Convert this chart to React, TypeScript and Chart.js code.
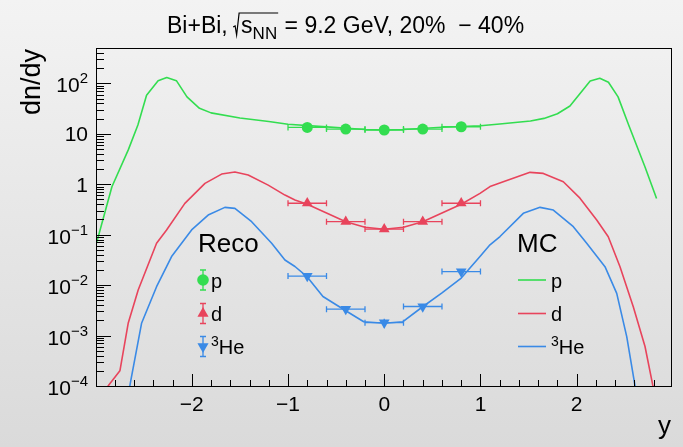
import React, { useEffect, useRef } from 'react';
import { Chart, registerables } from 'chart.js';

Chart.register(...registerables);

// ---------- data ----------
const mcRapP = [-2.99, -2.83, -2.66, -2.56, -2.47, -2.35, -2.26, -2.16, -2.05, -1.92, -1.8, -1.5, -1.2, -1.0, -0.6, -0.2, 0, 0.2, 0.6, 1.0, 1.2, 1.52, 1.66, 1.8, 1.93, 2.14, 2.24, 2.33, 2.43, 2.54, 2.71, 2.83];
const mcP = [0.068, 0.89, 4.8, 14.9, 58, 113, 131, 113, 54, 32, 26, 20.5, 17.5, 15.5, 13.7, 12.2, 11.9, 12.2, 13.5, 14.4, 15.6, 17.9, 20.2, 25, 35.5, 111, 126, 105, 54, 14.9, 2.2, 0.52];

const mcRapD = [-2.95, -2.862, -2.747, -2.661, -2.557, -2.366, -2.262, -2.072, -1.863, -1.69, -1.552, -1.414, -1.206, -1.032, -0.928, -0.8, -0.6, -0.4, -0.2, 0, 0.2, 0.4, 0.6, 0.8, 0.995, 1.099, 1.237, 1.515, 1.653, 1.861, 2.034, 2.208, 2.328, 2.45, 2.588, 2.71, 2.79, 2.84];
const mcD = [6e-5, 1.05e-4, 2.0e-4, 1.75e-3, 8.0e-3, 0.0675, 0.124, 0.418, 1.04, 1.59, 1.75, 1.52, 0.96, 0.61, 0.486, 0.4, 0.27, 0.18, 0.14, 0.128, 0.14, 0.18, 0.27, 0.4, 0.66, 0.9, 1.12, 1.72, 1.64, 1.12, 0.53, 0.195, 0.091, 0.0232, 3.73e-3, 6.07e-4, 1.05e-4, 5e-5];

const mcRapHe = [-2.68, -2.633, -2.522, -2.366, -2.21, -2.002, -1.83, -1.656, -1.552, -1.378, -1.17, -1.032, -0.928, -0.8, -0.637, -0.4, -0.213, 0, 0.194, 0.389, 0.6, 0.8, 0.995, 1.099, 1.203, 1.445, 1.619, 1.757, 1.965, 2.104, 2.294, 2.416, 2.52, 2.596, 2.64];
const mcHe = [4e-5, 1.31e-4, 1.75e-3, 9.3e-3, 0.0369, 0.124, 0.245, 0.348, 0.333, 0.181, 0.0675, 0.0315, 0.0234, 0.0145, 5.94e-3, 3.1e-3, 1.88e-3, 1.75e-3, 1.88e-3, 3.6e-3, 7.0e-3, 0.0138, 0.0369, 0.063, 0.0918, 0.265, 0.348, 0.308, 0.144, 0.0675, 0.0232, 6.87e-3, 9.5e-4, 1.31e-4, 4e-5];

const recoRap = [-0.8, -0.4, 0, 0.4, 0.8];
const recoRapErr = [0.2, 0.2, 0.2, 0.2, 0.2];
const recoP = [13.4, 12.4, 11.9, 12.4, 13.8];
const recoPErr = [0.4, 0.4, 0.4, 0.4, 0.4];
const recoD = [0.42, 0.181, 0.129, 0.181, 0.42];
const recoDErr = [0.015, 0.008, 0.007, 0.008, 0.015];
const recoHe = [0.0151, 0.00334, 0.0018, 0.00377, 0.0186];
const recoHeErr = [0.0015, 0.0004, 0.00035, 0.0004, 0.0015];

const yMajorExps = [-4, -3, -2, -1, 0, 1, 2];
const xMajorTicks = [-2, -1, 0, 1, 2];
const xTickLabels = ['\u22122', '\u22121', '0', '1', '2'];

const titleParts = { pre: 'Bi+Bi, ', s: 's', sub: 'NN', post: ' = 9.2 GeV, 20%  \u2212 40%' };
const yTitle = 'dn/dy';
const xTitle = 'y';
const legendEntries = ['p', 'd', 'He'];

const FONT = '"Liberation Sans", Arial, Helvetica, sans-serif';
const GREEN = '#33dd50';
const RED = '#e8445c';
const BLUE = '#3a8ae6';
const COLORS = [GREEN, RED, BLUE];

const xy = (xs: number[], ys: number[]) => xs.map((x, i) => ({ x, y: ys[i] }));

function drawMarker(ctx: CanvasRenderingContext2D, kind: number, x: number, y: number, color: string) {
  ctx.fillStyle = color;
  ctx.beginPath();
  if (kind === 0) {
    ctx.arc(x, y, 5.8, 0, Math.PI * 2);
  } else if (kind === 1) {
    const r = 6.4;
    ctx.moveTo(x, y - r);
    ctx.lineTo(x + r * 0.866, y + r * 0.5);
    ctx.lineTo(x - r * 0.866, y + r * 0.5);
    ctx.closePath();
  } else {
    const r = 6.4;
    ctx.moveTo(x, y + r);
    ctx.lineTo(x + r * 0.866, y - r * 0.5);
    ctx.lineTo(x - r * 0.866, y - r * 0.5);
    ctx.closePath();
  }
  ctx.fill();
}

const bgPlugin = {
  id: 'bg',
  beforeDraw(chart: any) {
    const { ctx, width, height } = chart;
    const g = ctx.createLinearGradient(0, 0, 0, height);
    g.addColorStop(0, '#f3f3f3');
    g.addColorStop(1, '#dadada');
    ctx.save();
    ctx.fillStyle = g;
    ctx.fillRect(0, 0, width, height);
    ctx.restore();
  },
};

const errPlugin = {
  id: 'errbars',
  afterDatasetsDraw(chart: any) {
    const { ctx } = chart;
    const xs = chart.scales.x;
    const ys = chart.scales.y;
    const sets = [
      [recoP, recoPErr],
      [recoD, recoDErr],
      [recoHe, recoHeErr],
    ];
    ctx.save();
    ctx.lineWidth = 1.3;
    sets.forEach(([vals, errs], k) => {
      ctx.strokeStyle = COLORS[k];
      recoRap.forEach((r, i) => {
        const px = xs.getPixelForValue(r);
        const py = ys.getPixelForValue(vals[i]);
        const x0 = xs.getPixelForValue(r - recoRapErr[i]);
        const x1 = xs.getPixelForValue(r + recoRapErr[i]);
        const y0 = ys.getPixelForValue(vals[i] + errs[i]);
        const y1 = ys.getPixelForValue(vals[i] - errs[i]);
        ctx.beginPath();
        ctx.moveTo(x0, py);
        ctx.lineTo(x1, py);
        ctx.moveTo(x0, py - 3);
        ctx.lineTo(x0, py + 3);
        ctx.moveTo(x1, py - 3);
        ctx.lineTo(x1, py + 3);
        ctx.moveTo(px, y0);
        ctx.lineTo(px, y1);
        ctx.stroke();
      });
    });
    ctx.restore();
  },
};

const framePlugin = {
  id: 'frame',
  afterDraw(chart: any) {
    const { ctx, chartArea } = chart;
    const { left, right, top, bottom } = chartArea;
    const xs = chart.scales.x;
    const ys = chart.scales.y;
    ctx.save();
    // frame
    ctx.strokeStyle = '#000';
    ctx.lineWidth = 1;
    ctx.strokeRect(Math.round(left) - 0.5, Math.round(top) - 0.5, Math.round(right - left) + 1, Math.round(bottom - top) + 1);

    // y ticks
    ctx.beginPath();
    yMajorExps.forEach((e) => {
      for (let m = 1; m <= 9; m++) {
        const v = m * Math.pow(10, e);
        if (v > ys.max) break;
        const py = Math.round(ys.getPixelForValue(v)) + 0.5;
        const len = m === 1 ? 14 : 7;
        ctx.moveTo(left, py);
        ctx.lineTo(left + len, py);
      }
    });
    // x ticks
    for (let i = -14; i <= 14; i++) {
      const v = i * 0.2;
      const px = Math.round(xs.getPixelForValue(v)) + 0.5;
      const len = i % 5 === 0 ? 12 : 6;
      ctx.moveTo(px, bottom);
      ctx.lineTo(px, bottom - len);
    }
    ctx.stroke();

    ctx.fillStyle = '#000';
    // y labels
    const lblRight = 88;
    yMajorExps.forEach((e) => {
      const py = ys.getPixelForValue(Math.pow(10, e));
      if (e === 0 || e === 1) {
        ctx.font = `21px ${FONT}`;
        ctx.textAlign = 'right';
        ctx.fillText(e === 0 ? '1' : '10', lblRight, py + 7.5);
      } else {
        const exp = e < 0 ? '\u2212' + Math.abs(e) : String(e);
        ctx.font = `15px ${FONT}`;
        const wExp = ctx.measureText(exp).width;
        ctx.textAlign = 'left';
        ctx.fillText(exp, lblRight - wExp, py);
        ctx.font = `21px ${FONT}`;
        ctx.textAlign = 'right';
        ctx.fillText('10', lblRight - wExp, py + 9);
      }
    });
    // x labels
    ctx.font = `21px ${FONT}`;
    ctx.textAlign = 'center';
    xMajorTicks.forEach((v, i) => {
      ctx.fillText(xTickLabels[i], xs.getPixelForValue(v), 411);
    });

    // axis titles
    ctx.font = `26px ${FONT}`;
    ctx.textAlign = 'right';
    ctx.fillText(xTitle, right, 434);
    ctx.save();
    ctx.font = `27px ${FONT}`;
    ctx.translate(40, top);
    ctx.rotate(-Math.PI / 2);
    ctx.textAlign = 'right';
    ctx.fillText(yTitle, 0, 0);
    ctx.restore();

    // title
    ctx.textAlign = 'left';
    ctx.font = `23px ${FONT}`;
    let tx = 167;
    const by = 33;
    ctx.fillText(titleParts.pre, tx, by);
    tx += ctx.measureText(titleParts.pre).width;
    const rx = tx;
    const sx = rx + 7;
    ctx.fillText(titleParts.s, sx, by);
    const subX = sx + ctx.measureText(titleParts.s).width;
    ctx.font = `17px ${FONT}`;
    ctx.fillText(titleParts.sub, subX, by + 6);
    const endX = subX + ctx.measureText(titleParts.sub).width + 1;
    ctx.lineWidth = 1.2;
    ctx.beginPath();
    ctx.moveTo(rx - 1, by - 6);
    ctx.lineTo(rx + 1, by - 7);
    ctx.lineTo(rx + 2.5, by + 2);
    ctx.lineTo(rx + 5, by - 20);
    ctx.lineTo(endX, by - 20);
    ctx.stroke();
    ctx.font = `23px ${FONT}`;
    ctx.fillText(titleParts.post, endX, by);

    // legends
    ctx.font = `26px ${FONT}`;
    ctx.fillText('Reco', 198, 252);
    ctx.fillText('MC', 517, 252);
    const rows = [280, 313.5, 346.5];
    rows.forEach((ry, k) => {
      const col = COLORS[k];
      ctx.strokeStyle = col;
      ctx.lineWidth = 1.3;
      ctx.beginPath();
      ctx.moveTo(203, ry - 10);
      ctx.lineTo(203, ry + 10);
      ctx.moveTo(200, ry - 10);
      ctx.lineTo(206, ry - 10);
      ctx.moveTo(200, ry + 10);
      ctx.lineTo(206, ry + 10);
      ctx.stroke();
      drawMarker(ctx, k, 203, ry, col);
      ctx.lineWidth = 1.6;
      ctx.beginPath();
      ctx.moveTo(518, ry);
      ctx.lineTo(546, ry);
      ctx.stroke();
      ctx.fillStyle = '#000';
      [211, 551].forEach((lx) => {
        if (k === 2) {
          ctx.font = `14px ${FONT}`;
          ctx.fillText('3', lx, ry - 1);
          const w3 = ctx.measureText('3').width;
          ctx.font = `20px ${FONT}`;
          ctx.fillText(legendEntries[k], lx + w3, ry + 7.5);
        } else {
          ctx.font = `20px ${FONT}`;
          ctx.fillText(legendEntries[k], lx, ry + 7.5);
        }
      });
    });
    ctx.restore();
  },
};

export default function App() {
  const ref = useRef<HTMLCanvasElement>(null);
  useEffect(() => {
    const canvas = ref.current!;
    const mk = (k: number) => ({
      pointStyle: k === 0 ? 'circle' : 'triangle',
      pointRadius: k === 0 ? 5.5 : 6.2,
      pointRotation: k === 2 ? 180 : 0,
      backgroundColor: COLORS[k],
      borderColor: COLORS[k],
      pointBorderWidth: 0,
      showLine: false,
      order: 1,
    });
    const ln = (k: number) => ({
      showLine: true,
      pointRadius: 0,
      borderColor: COLORS[k],
      borderWidth: 1.6,
      borderJoinStyle: 'round' as const,
      fill: false,
      order: 2,
    });
    const chart = new Chart(canvas, {
      type: 'scatter',
      data: {
        datasets: [
          { label: 'Reco p', data: xy(recoRap, recoP), ...mk(0) },
          { label: 'Reco d', data: xy(recoRap, recoD), ...mk(1) },
          { label: 'Reco 3He', data: xy(recoRap, recoHe), ...mk(2) },
          { label: 'MC p', data: xy(mcRapP, mcP), ...ln(0) },
          { label: 'MC d', data: xy(mcRapD, mcD), ...ln(1) },
          { label: 'MC 3He', data: xy(mcRapHe, mcHe), ...ln(2) },
        ] as any,
      },
      options: {
        responsive: false,
        maintainAspectRatio: false,
        animation: false,
        layout: { padding: { left: 97, right: 12, top: 49, bottom: 61 } },
        plugins: { legend: { display: false }, tooltip: { enabled: false }, title: { display: false } },
        scales: {
          x: {
            type: 'linear',
            min: -2.985,
            max: 2.98,
            grid: { display: false, drawTicks: false },
            border: { display: false },
            ticks: { display: false },
            afterFit: (s: any) => { s.height = 0; },
          },
          y: {
            type: 'logarithmic',
            min: 1e-4,
            max: 480,
            grid: { display: false, drawTicks: false },
            border: { display: false },
            ticks: { display: false },
            afterFit: (s: any) => { s.width = 0; },
          },
        },
      } as any,
      plugins: [bgPlugin, errPlugin, framePlugin],
    });
    return () => chart.destroy();
  }, []);
  return (
    <div style={{ position: 'fixed', left: 0, top: 0, width: 683, height: 447 }}>
      <canvas ref={ref} width={683} height={447} style={{ display: 'block' }} />
    </div>
  );
}
